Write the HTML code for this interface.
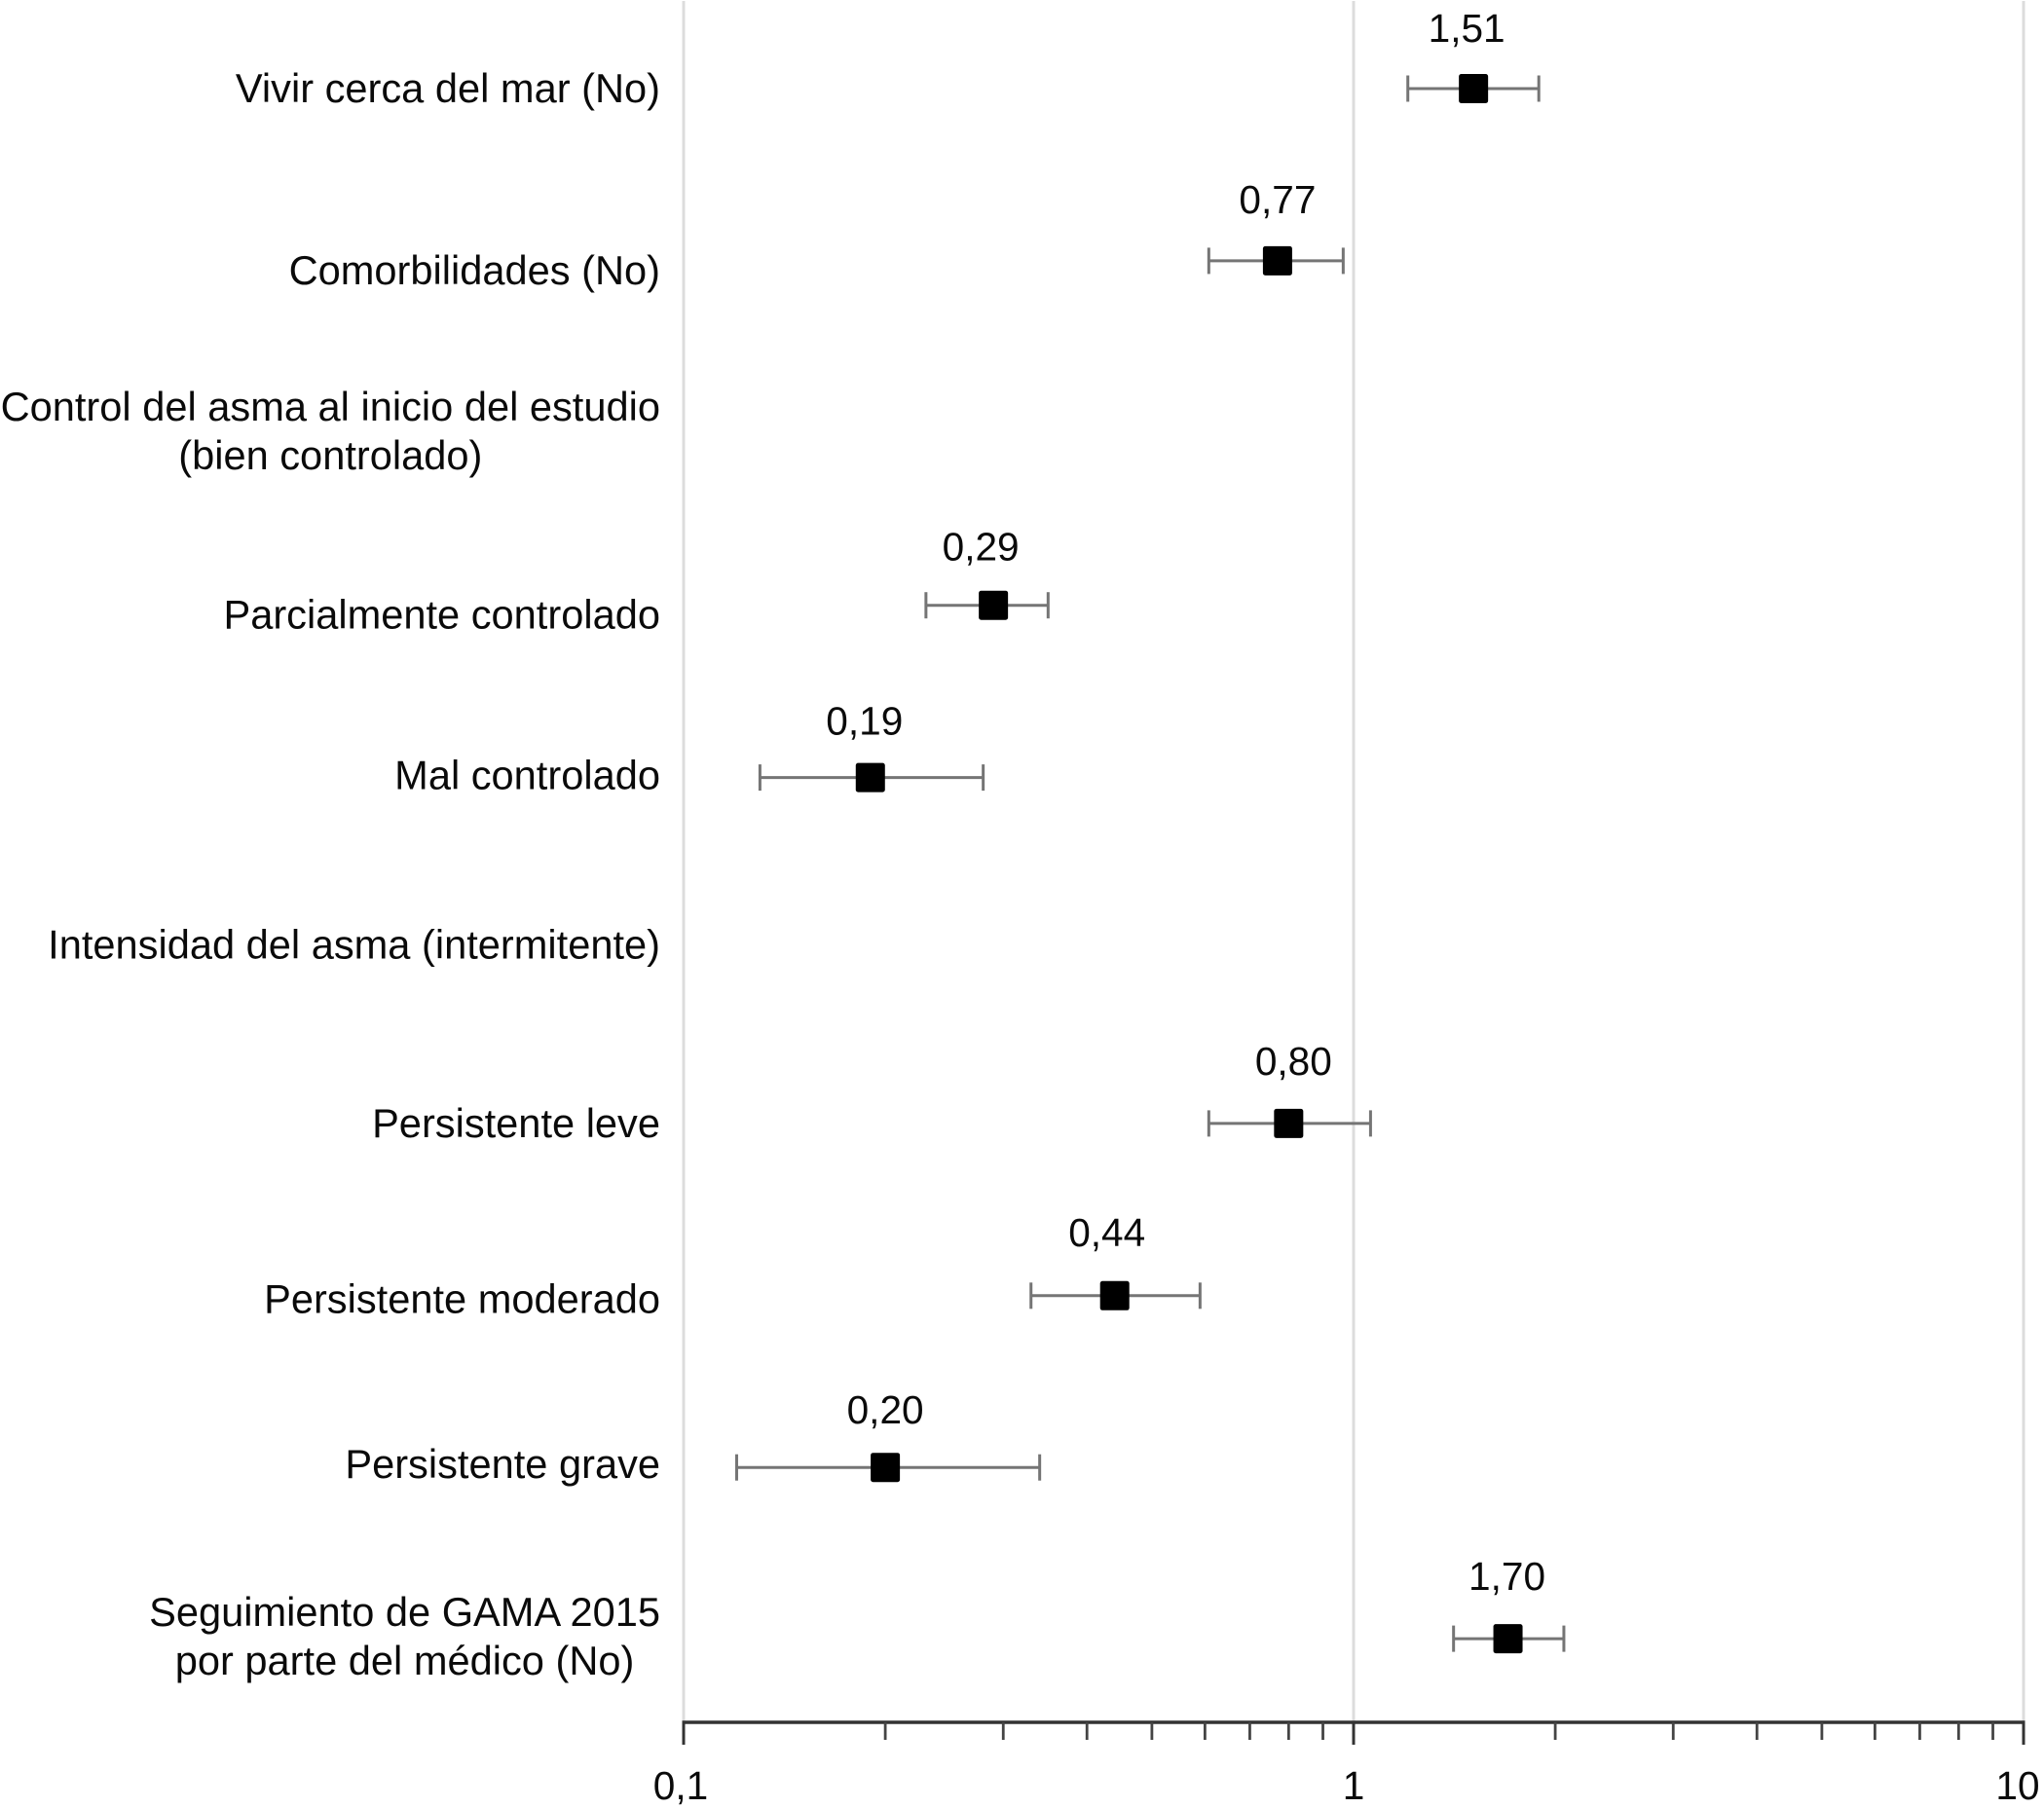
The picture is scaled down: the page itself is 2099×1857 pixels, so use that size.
<!DOCTYPE html>
<html lang="es">
<head>
<meta charset="utf-8">
<title>Forest plot</title>
<style>
html,body{margin:0;padding:0;background:#fff;width:2099px;height:1857px;overflow:hidden}
svg{display:block}
text{font-family:"Liberation Sans",sans-serif;fill:#0a0a0a}
</style>
</head>
<body>
<svg id="chart" xmlns="http://www.w3.org/2000/svg" width="2099" height="1857" viewBox="0 0 2099 1857"></svg>
<script>
// ---- data ----
const categories = [
  ["Vivir cerca del mar (No)"],
  ["Comorbilidades (No)"],
  ["Control del asma al inicio del estudio", "(bien controlado)"],
  ["Parcialmente controlado"],
  ["Mal controlado"],
  ["Intensidad del asma (intermitente)"],
  ["Persistente leve"],
  ["Persistente moderado"],
  ["Persistente grave"],
  ["Seguimiento de GAMA 2015", "por parte del médico (No)"]
];
const oddsRatios = [1.51, 0.77, null, 0.29, 0.19, null, 0.80, 0.44, 0.20, 1.70];
const ciLow      = [1.205, 0.608, null, 0.23, 0.13, null, 0.608, 0.33, 0.12, 1.41];
const ciHigh     = [1.89, 0.965, null, 0.35, 0.28, null, 1.06, 0.59, 0.34, 2.06];
const majorTicks = [0.1, 1, 10];
const majorTickLabels = ["0,1", "1", "10"];
const minorTicks = [0.2, 0.3, 0.4, 0.5, 0.6, 0.7, 0.8, 0.9, 2, 3, 4, 5, 6, 7, 8, 9];

// ---- layout ----
const CAT_FONT = 41.6, VAL_FONT = 40.6;
const AX_Y = 1769, X0 = 702, DECADE = 688;
const ROW0 = 91, ROW_STEP = 176.9;
const LABEL_RIGHT = 678;
const rowNudgeY = [0, 0, 0, 0, 0, 0, 1.5, 1.5, 1, 0];
const valueNudgeX = [-7, 0, 0, -13, -6, 0, 5, -8, 0, -1];
const valueGap = [48, 49, 0, 46, 44, 0, 50, 51, 45, 50];
const catNudgeY = [0, 10, -2, 10, -2, -5, 0, 3.5, -3, -2];

const xScale = v => X0 + (Math.log10(v) - Math.log10(0.1)) * DECADE;
const yScale = i => ROW0 + i * ROW_STEP + rowNudgeY[i];

const svg = document.getElementById('chart');
const NS = 'http://www.w3.org/2000/svg';
function mk(tag, props, parent) {
  const el = document.createElementNS(NS, tag);
  for (const k in props) el.setAttribute(k, props[k]);
  (parent || svg).appendChild(el);
  return el;
}

// gridlines at decades
majorTicks.forEach(t => {
  const g = mk('line', {x1: xScale(t), x2: xScale(t), y1: 1, y2: AX_Y, stroke: '#dcdcdc', 'stroke-width': 3});
  
  
});

// category labels
categories.forEach((lines, i) => {
  const cy = yScale(i) + catNudgeY[i];
  const two = lines.length > 1;
  const t = mk('text', {'font-size': CAT_FONT});
  
  
  if (!two) {
    t.setAttribute('x', LABEL_RIGHT);
    t.setAttribute('y', cy + 14);
    t.setAttribute('text-anchor', 'end');
    t.textContent = lines[0];
  } else {
    const first = mk('tspan', {x: LABEL_RIGHT, y: cy - 11, 'text-anchor': 'end'}, t);
    first.textContent = lines[0];
    const probe = first.getComputedTextLength();
    const second = mk('tspan', {x: LABEL_RIGHT - probe / 2, y: cy + 39, 'text-anchor': 'middle'}, t);
    second.textContent = lines[1];
  }
});

// confidence intervals + markers + printed values
oddsRatios.forEach((v, i) => {
  if (v === null) return;
  const y = yScale(i), xl = xScale(ciLow[i]), xh = xScale(ciHigh[i]), xm = xScale(v);
  const w = mk('line', {x1: xl, x2: xh, y1: y, y2: y, stroke: '#757575', 'stroke-width': 3});
  
  
  const cl = mk('line', {x1: xl, x2: xl, y1: y - 13.5, y2: y + 13.5, stroke: '#757575', 'stroke-width': 3});
  
  
  const ch = mk('line', {x1: xh, x2: xh, y1: y - 13.5, y2: y + 13.5, stroke: '#757575', 'stroke-width': 3});
  
  
  const m = mk('rect', {x: xm - 15, y: y - 15, width: 30, height: 30, rx: 2.5, fill: '#000'});
  
  
  const t = mk('text', {x: xm + valueNudgeX[i], y: y - valueGap[i], 'text-anchor': 'middle', 'font-size': VAL_FONT});
  
  
  t.textContent = v.toFixed(2).replace('.', ',');
});

// x axis
const axis = mk('line', {x1: xScale(0.1) - 1.5, x2: xScale(10) + 1.5, y1: AX_Y, y2: AX_Y, stroke: '#333', 'stroke-width': 3.4});


minorTicks.forEach(t => {
  const k = mk('line', {x1: xScale(t), x2: xScale(t), y1: AX_Y, y2: AX_Y + 18, stroke: '#444', 'stroke-width': 2.8});
  
  
});
majorTicks.forEach((t, i) => {
  const k = mk('line', {x1: xScale(t), x2: xScale(t), y1: AX_Y, y2: AX_Y + 23, stroke: '#333', 'stroke-width': 3});
  
  
  const lab = mk('text', {x: xScale(t) + (i === 0 ? -3 : i === 2 ? -6 : 0), y: 1848, 'text-anchor': 'middle', 'font-size': VAL_FONT});
  
  
  lab.textContent = majorTickLabels[i];
});
</script>
</body>
</html>
